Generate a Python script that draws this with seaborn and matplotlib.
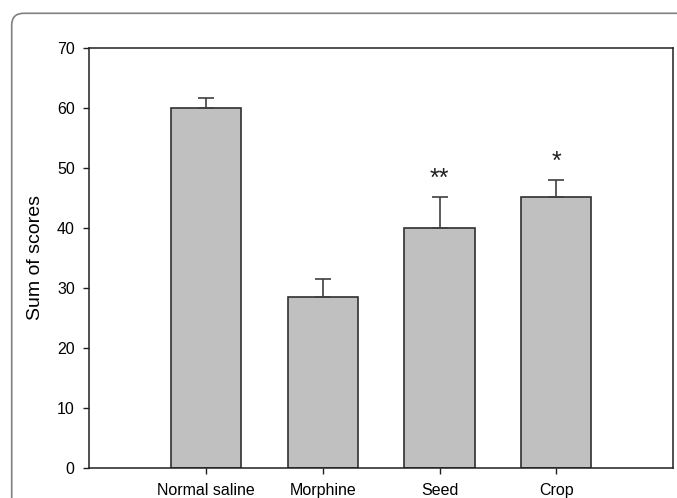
import matplotlib
matplotlib.use("Agg")
from matplotlib import pyplot as plt
from matplotlib.patches import FancyBboxPatch
from matplotlib.transforms import IdentityTransform
import seaborn as sns
import pandas as pd

groups = ["Normal saline", "Morphine", "Seed", "Crop"]
scores = [60.0, 28.5, 40.0, 45.2]
errors = [1.7, 3.0, 5.2, 2.75]
stars = ["", "", "**", "*"]

# %
sns.set_style("white")
plt.rcParams["font.family"] = ["Liberation Sans", "DejaVu Sans"]
plt.rcParams["text.color"] = "black"
plt.rcParams["axes.labelcolor"] = "black"

df = pd.DataFrame({"group": groups, "score": scores})

fig = plt.figure(figsize=(6.77, 4.98), dpi=100)
ax = fig.add_axes([0.1319, 0.0608, 0.8622, 0.8434])

sns.barplot(data=df, x="group", y="score", color="#c0c0c0", saturation=1,
            edgecolor="#303030", linewidth=1.2, width=0.6, errorbar=None, ax=ax)
ax.errorbar(range(len(groups)), scores, yerr=[[0] * len(errors), errors], fmt="none",
            ecolor="#404040", elinewidth=1.2, capsize=6, capthick=1.2)

for i, s in enumerate(stars):
    if s:
        ax.annotate(s, (i, scores[i] + errors[i]), xytext=(0, 13), textcoords="offset points",
                    ha="center", va="center", fontsize=18, color="#202020")

ax.set_xlim(-1, 4)
ax.set_ylim(0, 70)
ax.set_yticks(range(0, 71, 10))
ax.set_xlabel("")
ax.set_ylabel("Sum of scores", fontsize=14, labelpad=9)
for side in ["left", "right", "top", "bottom"]:
    ax.spines[side].set_visible(True)
    ax.spines[side].set_color("#202020")
    ax.spines[side].set_linewidth(1.1)
ax.tick_params(axis="both", which="both", direction="out", length=4.5, width=1,
               color="#202020", labelcolor="black", labelsize=11.5, pad=6,
               left=True, bottom=True)
ax.tick_params(axis="x", pad=6.5)

frame = FancyBboxPatch((11.7, -30), 720, 498 - 13.3 + 30,
                       boxstyle="round,pad=0,rounding_size=12",
                       transform=IdentityTransform(), fill=False,
                       edgecolor="#808080", linewidth=1.2)
fig.patches.append(frame)

plt.savefig("out.png", dpi=100)
